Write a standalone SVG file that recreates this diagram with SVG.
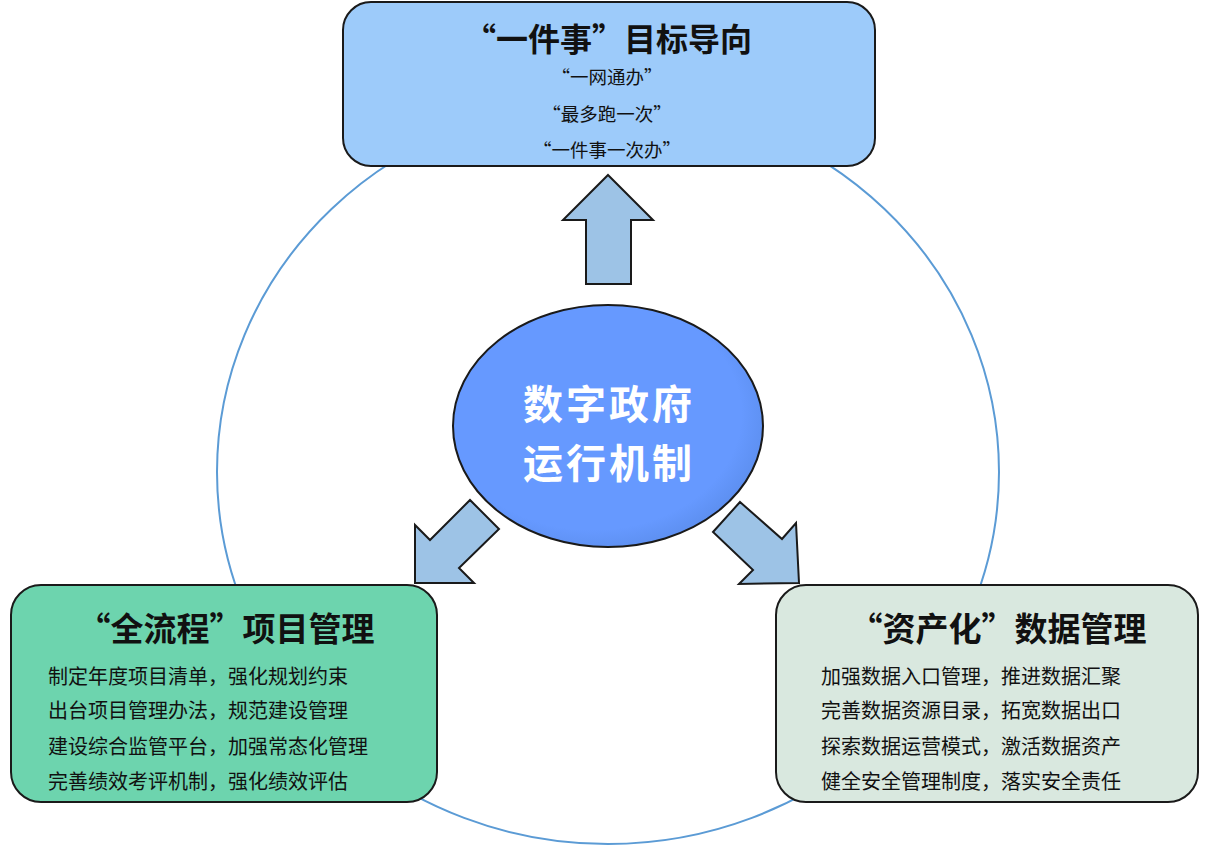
<svg xmlns="http://www.w3.org/2000/svg" width="1206" height="848" viewBox="0 0 1206 848">
<defs>
<style>
.box{stroke:#1a1a1a;stroke-width:2}
.ttl{font-family:"Noto Sans CJK SC","Liberation Sans",sans-serif;font-weight:bold;fill:#111}
.sub{font-family:"Noto Sans CJK SC","Liberation Sans",sans-serif;font-size:18.5px;fill:#111;text-anchor:middle}
.li{font-family:"Noto Sans CJK SC","Liberation Sans",sans-serif;font-size:20px;fill:#111}
.arr{fill:#9DC3E6;stroke:#1a1a1a;stroke-width:2;stroke-linejoin:miter}
.ctr{font-family:"Noto Sans CJK SC","Liberation Sans",sans-serif;font-weight:bold;font-size:40px;letter-spacing:3px;fill:#fff;text-anchor:middle}
</style>
<radialGradient id="eg" cx="0.45" cy="0.45" r="0.6">
<stop offset="0.8" stop-color="#6699FF"/>
<stop offset="1" stop-color="#5A8CEB"/>
</radialGradient>
</defs>
<rect width="1206" height="848" fill="#fff"/>
<ellipse id="ring" cx="608" cy="472" rx="391" ry="372" fill="none" stroke="#5B9BD5" stroke-width="2"/>
<g id="connectors">
<polygon class="arr" points="608,175 653,220 631,220 631,284 586,284 586,220 563,220"/>
<polygon class="arr" points="415,583 415,525 430,540 470,500 499,529 459,568 474,583"/>
<polygon class="arr" points="740,502 782,539 796,523 799,583 739,584 753,570 713,532"/>
</g>
<g id="top">
<rect class="box" x="343" y="2" width="532" height="164" rx="28" fill="#9DCBFA"/>
<text class="ttl" x="608" y="51" font-size="32" text-anchor="middle">“一件事”目标导向</text>
<text class="sub" x="607" y="84">“一网通办”</text>
<text class="sub" x="607" y="121">“最多跑一次”</text>
<text class="sub" x="607" y="157">“一件事一次办”</text>
</g>
<g id="center">
<ellipse cx="608" cy="426" rx="155" ry="121" fill="url(#eg)" stroke="#1a1a1a" stroke-width="2"/>
<text class="ctr" x="609" y="419">数字政府</text>
<text class="ctr" x="609" y="478">运行机制</text>
</g>
<g id="left">
<rect class="box" x="11" y="585" width="426" height="217" rx="30" fill="#6DD4AE"/>
<text class="ttl" x="226" y="641" font-size="33" text-anchor="middle">“全流程”项目管理</text>
<text class="li" x="48" y="684">制定年度项目清单，强化规划约束</text>
<text class="li" x="48" y="718">出台项目管理办法，规范建设管理</text>
<text class="li" x="48" y="754">建设综合监管平台，加强常态化管理</text>
<text class="li" x="48" y="789">完善绩效考评机制，强化绩效评估</text>
</g>
<g id="right">
<rect class="box" x="776" y="585" width="422" height="217" rx="30" fill="#D9E8DF"/>
<text class="ttl" x="998" y="641" font-size="33" text-anchor="middle">“资产化”数据管理</text>
<text class="li" x="821" y="684">加强数据入口管理，推进数据汇聚</text>
<text class="li" x="821" y="718">完善数据资源目录，拓宽数据出口</text>
<text class="li" x="821" y="754">探索数据运营模式，激活数据资产</text>
<text class="li" x="821" y="789">健全安全管理制度，落实安全责任</text>
</g>
</svg>
